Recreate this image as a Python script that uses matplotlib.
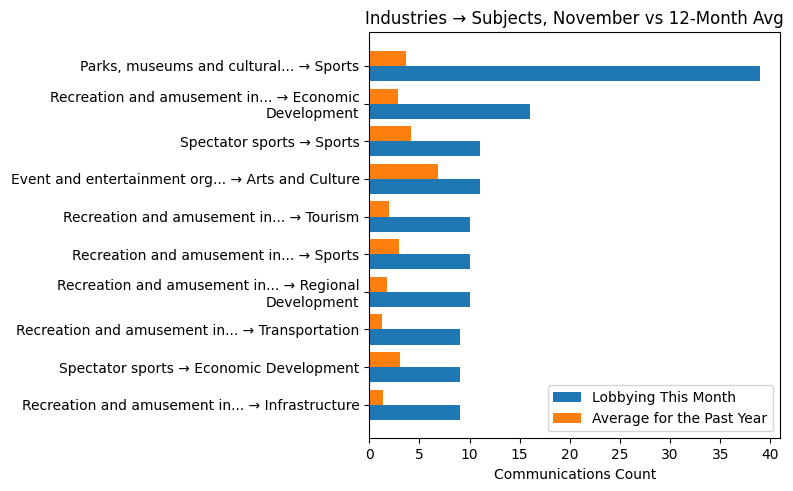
import numpy as np
import matplotlib.pyplot as plt

labels = [
    'Parks, museums and cultural... → Sports',
    'Recreation and amusement in... → Economic\nDevelopment',
    'Spectator sports → Sports',
    'Event and entertainment org... → Arts and Culture',
    'Recreation and amusement in... → Tourism',
    'Recreation and amusement in... → Sports',
    'Recreation and amusement in... → Regional\nDevelopment',
    'Recreation and amusement in... → Transportation',
    'Spectator sports → Economic Development',
    'Recreation and amusement in... → Infrastructure',
]
this_month = [39, 16, 11, 11, 10, 10, 10, 9, 9, 9]
past_year_avg = [3.63, 2.83, 4.13, 6.83, 1.93, 2.93, 1.73, 1.23, 3.03, 1.33]

fig, ax = plt.subplots(figsize=(7.93, 4.91), dpi=100)
y = np.arange(len(labels))
h = 0.4
ax.barh(y + h / 2, this_month, height=h, label='Lobbying This Month')
ax.barh(y - h / 2, past_year_avg, height=h, label='Average for the Past Year')
ax.set_yticks(y)
ax.set_yticklabels(labels)
ax.invert_yaxis()
ax.set_xlabel('Communications Count')
ax.set_title('Industries → Subjects, November vs 12-Month Avg')
ax.legend(loc='lower right')
fig.subplots_adjust(left=0.4657, right=0.9836, top=0.934, bottom=0.1073)
fig.savefig('out.png')
